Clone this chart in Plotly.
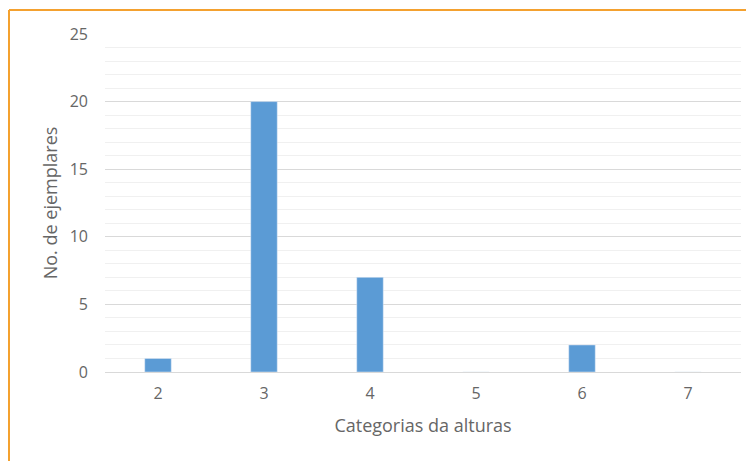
import plotly.graph_objects as go

categorias = ["2", "3", "4", "5", "6", "7"]
ejemplares = [1, 20, 7, 0, 2, 0]
y_ticks = [0, 5, 10, 15, 20, 25]

# page body has an 8px margin, so the figure is sized and placed to compensate
OFF = 8
W, H = 754 - OFF, 461 - OFF
ml, mr, mt, mb = 105 - OFF, 13, 34 - OFF, 89
pw, ph = W - ml - mr, H - mt - mb

def px_x(x):
    return (x - OFF - ml) / pw

def px_y(y):
    return (H - mb - (y - OFF)) / ph

fig = go.Figure(go.Bar(x=categorias, y=ejemplares, marker_color="#5B9BD5", width=0.25))

font = dict(family="Open Sans, Liberation Sans, sans-serif", size=16, color="#666666")

fig.update_layout(
    width=W, height=H,
    margin=dict(l=ml, r=mr, t=mt, b=mb),
    paper_bgcolor="white", plot_bgcolor="white",
    font=font,
    showlegend=False,
    shapes=[
        dict(type="line", xref="paper", yref="paper", x0=px_x(9), x1=px_x(770), y0=px_y(10), y1=px_y(10),
             line=dict(color="#F4A12F", width=2)),
        dict(type="line", xref="paper", yref="paper", x0=px_x(9), x1=px_x(9), y0=px_y(10), y1=px_y(480),
             line=dict(color="#F4A12F", width=2)),
    ],
)
fig.update_xaxes(
    type="category", showgrid=False, showline=False, zeroline=False, ticks="",
    ticklabelstandoff=10,
    title=dict(text="Categorias da alturas", font=dict(size=18, color="#666666"), standoff=16),
)
fig.update_yaxes(
    range=[0, 25], tickvals=y_ticks, showgrid=True, gridcolor="#D9D9D9", gridwidth=1,
    zeroline=True, zerolinecolor="#D9D9D9", zerolinewidth=1, showline=False, ticks="",
    ticklabelstandoff=16,
    minor=dict(dtick=1, showgrid=True, gridcolor="#F0F0F0", gridwidth=1),
    title=dict(text="No. de ejemplares", font=dict(size=18, color="#666666"), standoff=7),
)
fig.write_html("out.html")
